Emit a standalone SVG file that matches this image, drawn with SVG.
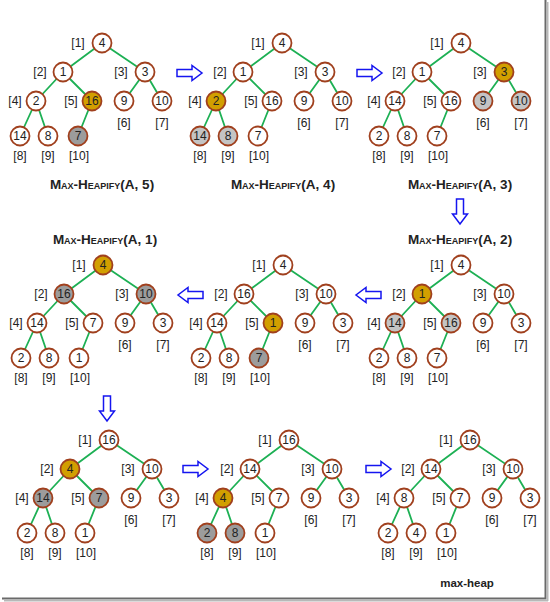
<svg xmlns="http://www.w3.org/2000/svg" xmlns:xlink="http://www.w3.org/1999/xlink" width="550" height="602" viewBox="0 0 550 602">
<style>
text{font-family:"Liberation Sans",Arial,sans-serif;font-size:12px;fill:#222;text-anchor:middle}
.n circle{fill:#fff;stroke:#A0401E;stroke-width:1.8}
.g circle{fill:#D29F00}
.d circle{fill:#9C9C9C}
.l circle{fill:#C4C4C4}
.cap{font-weight:bold;font-variant:small-caps;font-size:13.5px}
.mh{font-weight:bold;font-size:11.5px}
.edge{fill:none;stroke:#1DB054;stroke-width:1.8}
.arr{fill:#fff;stroke:#1515F0;stroke-width:1.5;stroke-linejoin:miter}
</style>
<defs>
<path id="edges" d="M102,43 L63,72 M102,43 L145,72 M63,72 L36,101 M63,72 L92,101 M145,72 L124,101 M145,72 L162,101 M36,101 L20,136 M36,101 L48,136 M92,101 L78,136"/>
<path id="arrow" d="M0,-3.5 H15 V-7.5 L25,0 L15,7.5 V3.5 H0 Z"/>
</defs>
<rect width="550" height="602" fill="#fff"/>
<g id="frame">
<line x1="545.5" y1="0" x2="545.5" y2="599" stroke="#6a6a6a" stroke-width="2"/>
<line x1="547.5" y1="2" x2="547.5" y2="601" stroke="#b8b8b8" stroke-width="2"/>
<line x1="2" y1="598.5" x2="546" y2="598.5" stroke="#6a6a6a" stroke-width="2"/>
<line x1="4" y1="600.5" x2="548" y2="600.5" stroke="#b8b8b8" stroke-width="2"/>
</g>
<g id="connectors" class="edge">
<use xlink:href="#edges" href="#edges"/>
<use xlink:href="#edges" href="#edges" transform="translate(180,0)"/>
<use xlink:href="#edges" href="#edges" transform="translate(359,0)"/>
<use xlink:href="#edges" href="#edges" transform="translate(1,222)"/>
<use xlink:href="#edges" href="#edges" transform="translate(181,222)"/>
<use xlink:href="#edges" href="#edges" transform="translate(359,222)"/>
<use xlink:href="#edges" href="#edges" transform="translate(7,397)"/>
<use xlink:href="#edges" href="#edges" transform="translate(187,397)"/>
<use xlink:href="#edges" href="#edges" transform="translate(368,397)"/>
</g>
<g id="steps" class="arr">
<use xlink:href="#arrow" href="#arrow" transform="translate(177,73)"/>
<use xlink:href="#arrow" href="#arrow" transform="translate(357,73)"/>
<use xlink:href="#arrow" href="#arrow" transform="translate(460,199) rotate(90)"/>
<use xlink:href="#arrow" href="#arrow" transform="translate(381,295) scale(-1,1)"/>
<use xlink:href="#arrow" href="#arrow" transform="translate(203,295) scale(-1,1)"/>
<use xlink:href="#arrow" href="#arrow" transform="translate(107,396) rotate(90)"/>
<use xlink:href="#arrow" href="#arrow" transform="translate(183,469)"/>
<use xlink:href="#arrow" href="#arrow" transform="translate(366,469)"/>
</g>
<g id="captions">
<text class="cap" x="102" y="189">Max-Heapify(A, 5)</text>
<text class="cap" x="283" y="189">Max-Heapify(A, 4)</text>
<text class="cap" x="460" y="189">Max-Heapify(A, 3)</text>
<text class="cap" x="460" y="244">Max-Heapify(A, 2)</text>
<text class="cap" x="105" y="244">Max-Heapify(A, 1)</text>
<text class="mh" x="467" y="587">max-heap</text>
</g>
<g id="treeA" transform="translate(0,0)">
<g id="A1" class="n" transform="translate(102,43)"><circle r="9.5"/><text y="4.3">4</text><text x="-24" y="4.3">[1]</text></g>
<g id="A2" class="n" transform="translate(63,72)"><circle r="9.5"/><text y="4.3">1</text><text x="-23" y="4.3">[2]</text></g>
<g id="A3" class="n" transform="translate(145,72)"><circle r="9.5"/><text y="4.3">3</text><text x="-24" y="4.3">[3]</text></g>
<g id="A4" class="n" transform="translate(36,101)"><circle r="9.5"/><text y="4.3">2</text><text x="-21" y="4.3">[4]</text></g>
<g id="A5" class="n g" transform="translate(92,101)"><circle r="9.5"/><text y="4.3">16</text><text x="-21" y="4.3">[5]</text></g>
<g id="A6" class="n" transform="translate(124,101)"><circle r="9.5"/><text y="4.3">9</text><text y="26.3">[6]</text></g>
<g id="A7" class="n" transform="translate(162,101)"><circle r="9.5"/><text y="4.3">10</text><text y="26.3">[7]</text></g>
<g id="A8" class="n" transform="translate(20,136)"><circle r="9.5"/><text y="4.3">14</text><text y="24.3">[8]</text></g>
<g id="A9" class="n" transform="translate(48,136)"><circle r="9.5"/><text y="4.3">8</text><text y="24.3">[9]</text></g>
<g id="A10" class="n d" transform="translate(78,136)"><circle r="9.5"/><text y="4.3">7</text><text x="1" y="24.3">[10]</text></g>
</g>
<g id="treeB" transform="translate(180,0)">
<g id="B1" class="n" transform="translate(102,43)"><circle r="9.5"/><text y="4.3">4</text><text x="-24" y="4.3">[1]</text></g>
<g id="B2" class="n" transform="translate(63,72)"><circle r="9.5"/><text y="4.3">1</text><text x="-23" y="4.3">[2]</text></g>
<g id="B3" class="n" transform="translate(145,72)"><circle r="9.5"/><text y="4.3">3</text><text x="-24" y="4.3">[3]</text></g>
<g id="B4" class="n g" transform="translate(36,101)"><circle r="9.5"/><text y="4.3">2</text><text x="-21" y="4.3">[4]</text></g>
<g id="B5" class="n" transform="translate(92,101)"><circle r="9.5"/><text y="4.3">16</text><text x="-21" y="4.3">[5]</text></g>
<g id="B6" class="n" transform="translate(124,101)"><circle r="9.5"/><text y="4.3">9</text><text y="26.3">[6]</text></g>
<g id="B7" class="n" transform="translate(162,101)"><circle r="9.5"/><text y="4.3">10</text><text y="26.3">[7]</text></g>
<g id="B8" class="n l" transform="translate(20,136)"><circle r="9.5"/><text y="4.3">14</text><text y="24.3">[8]</text></g>
<g id="B9" class="n l" transform="translate(48,136)"><circle r="9.5"/><text y="4.3">8</text><text y="24.3">[9]</text></g>
<g id="B10" class="n" transform="translate(78,136)"><circle r="9.5"/><text y="4.3">7</text><text x="1" y="24.3">[10]</text></g>
</g>
<g id="treeC" transform="translate(359,0)">
<g id="C1" class="n" transform="translate(102,43)"><circle r="9.5"/><text y="4.3">4</text><text x="-24" y="4.3">[1]</text></g>
<g id="C2" class="n" transform="translate(63,72)"><circle r="9.5"/><text y="4.3">1</text><text x="-23" y="4.3">[2]</text></g>
<g id="C3" class="n g" transform="translate(145,72)"><circle r="9.5"/><text y="4.3">3</text><text x="-24" y="4.3">[3]</text></g>
<g id="C4" class="n" transform="translate(36,101)"><circle r="9.5"/><text y="4.3">14</text><text x="-21" y="4.3">[4]</text></g>
<g id="C5" class="n" transform="translate(92,101)"><circle r="9.5"/><text y="4.3">16</text><text x="-21" y="4.3">[5]</text></g>
<g id="C6" class="n l" transform="translate(124,101)"><circle r="9.5"/><text y="4.3">9</text><text y="26.3">[6]</text></g>
<g id="C7" class="n l" transform="translate(162,101)"><circle r="9.5"/><text y="4.3">10</text><text y="26.3">[7]</text></g>
<g id="C8" class="n" transform="translate(20,136)"><circle r="9.5"/><text y="4.3">2</text><text y="24.3">[8]</text></g>
<g id="C9" class="n" transform="translate(48,136)"><circle r="9.5"/><text y="4.3">8</text><text y="24.3">[9]</text></g>
<g id="C10" class="n" transform="translate(78,136)"><circle r="9.5"/><text y="4.3">7</text><text x="1" y="24.3">[10]</text></g>
</g>
<g id="treeD" transform="translate(359,222)">
<g id="D1" class="n" transform="translate(102,43)"><circle r="9.5"/><text y="4.3">4</text><text x="-24" y="4.3">[1]</text></g>
<g id="D2" class="n g" transform="translate(63,72)"><circle r="9.5"/><text y="4.3">1</text><text x="-23" y="4.3">[2]</text></g>
<g id="D3" class="n" transform="translate(145,72)"><circle r="9.5"/><text y="4.3">10</text><text x="-24" y="4.3">[3]</text></g>
<g id="D4" class="n l" transform="translate(36,101)"><circle r="9.5"/><text y="4.3">14</text><text x="-21" y="4.3">[4]</text></g>
<g id="D5" class="n l" transform="translate(92,101)"><circle r="9.5"/><text y="4.3">16</text><text x="-21" y="4.3">[5]</text></g>
<g id="D6" class="n" transform="translate(124,101)"><circle r="9.5"/><text y="4.3">9</text><text y="26.3">[6]</text></g>
<g id="D7" class="n" transform="translate(162,101)"><circle r="9.5"/><text y="4.3">3</text><text y="26.3">[7]</text></g>
<g id="D8" class="n" transform="translate(20,136)"><circle r="9.5"/><text y="4.3">2</text><text y="24.3">[8]</text></g>
<g id="D9" class="n" transform="translate(48,136)"><circle r="9.5"/><text y="4.3">8</text><text y="24.3">[9]</text></g>
<g id="D10" class="n" transform="translate(78,136)"><circle r="9.5"/><text y="4.3">7</text><text x="1" y="24.3">[10]</text></g>
</g>
<g id="treeE" transform="translate(181,222)">
<g id="E1" class="n" transform="translate(102,43)"><circle r="9.5"/><text y="4.3">4</text><text x="-24" y="4.3">[1]</text></g>
<g id="E2" class="n" transform="translate(63,72)"><circle r="9.5"/><text y="4.3">16</text><text x="-23" y="4.3">[2]</text></g>
<g id="E3" class="n" transform="translate(145,72)"><circle r="9.5"/><text y="4.3">10</text><text x="-24" y="4.3">[3]</text></g>
<g id="E4" class="n" transform="translate(36,101)"><circle r="9.5"/><text y="4.3">14</text><text x="-21" y="4.3">[4]</text></g>
<g id="E5" class="n g" transform="translate(92,101)"><circle r="9.5"/><text y="4.3">1</text><text x="-21" y="4.3">[5]</text></g>
<g id="E6" class="n" transform="translate(124,101)"><circle r="9.5"/><text y="4.3">9</text><text y="26.3">[6]</text></g>
<g id="E7" class="n" transform="translate(162,101)"><circle r="9.5"/><text y="4.3">3</text><text y="26.3">[7]</text></g>
<g id="E8" class="n" transform="translate(20,136)"><circle r="9.5"/><text y="4.3">2</text><text y="24.3">[8]</text></g>
<g id="E9" class="n" transform="translate(48,136)"><circle r="9.5"/><text y="4.3">8</text><text y="24.3">[9]</text></g>
<g id="E10" class="n d" transform="translate(78,136)"><circle r="9.5"/><text y="4.3">7</text><text x="1" y="24.3">[10]</text></g>
</g>
<g id="treeF" transform="translate(1,222)">
<g id="F1" class="n g" transform="translate(102,43)"><circle r="9.5"/><text y="4.3">4</text><text x="-24" y="4.3">[1]</text></g>
<g id="F2" class="n d" transform="translate(63,72)"><circle r="9.5"/><text y="4.3">16</text><text x="-23" y="4.3">[2]</text></g>
<g id="F3" class="n d" transform="translate(145,72)"><circle r="9.5"/><text y="4.3">10</text><text x="-24" y="4.3">[3]</text></g>
<g id="F4" class="n" transform="translate(36,101)"><circle r="9.5"/><text y="4.3">14</text><text x="-21" y="4.3">[4]</text></g>
<g id="F5" class="n" transform="translate(92,101)"><circle r="9.5"/><text y="4.3">7</text><text x="-21" y="4.3">[5]</text></g>
<g id="F6" class="n" transform="translate(124,101)"><circle r="9.5"/><text y="4.3">9</text><text y="26.3">[6]</text></g>
<g id="F7" class="n" transform="translate(162,101)"><circle r="9.5"/><text y="4.3">3</text><text y="26.3">[7]</text></g>
<g id="F8" class="n" transform="translate(20,136)"><circle r="9.5"/><text y="4.3">2</text><text y="24.3">[8]</text></g>
<g id="F9" class="n" transform="translate(48,136)"><circle r="9.5"/><text y="4.3">8</text><text y="24.3">[9]</text></g>
<g id="F10" class="n" transform="translate(78,136)"><circle r="9.5"/><text y="4.3">1</text><text x="1" y="24.3">[10]</text></g>
</g>
<g id="treeG" transform="translate(7,397)">
<g id="G1" class="n" transform="translate(102,43)"><circle r="9.5"/><text y="4.3">16</text><text x="-24" y="4.3">[1]</text></g>
<g id="G2" class="n g" transform="translate(63,72)"><circle r="9.5"/><text y="4.3">4</text><text x="-23" y="4.3">[2]</text></g>
<g id="G3" class="n" transform="translate(145,72)"><circle r="9.5"/><text y="4.3">10</text><text x="-24" y="4.3">[3]</text></g>
<g id="G4" class="n d" transform="translate(36,101)"><circle r="9.5"/><text y="4.3">14</text><text x="-21" y="4.3">[4]</text></g>
<g id="G5" class="n d" transform="translate(92,101)"><circle r="9.5"/><text y="4.3">7</text><text x="-21" y="4.3">[5]</text></g>
<g id="G6" class="n" transform="translate(124,101)"><circle r="9.5"/><text y="4.3">9</text><text y="26.3">[6]</text></g>
<g id="G7" class="n" transform="translate(162,101)"><circle r="9.5"/><text y="4.3">3</text><text y="26.3">[7]</text></g>
<g id="G8" class="n" transform="translate(20,136)"><circle r="9.5"/><text y="4.3">2</text><text y="24.3">[8]</text></g>
<g id="G9" class="n" transform="translate(48,136)"><circle r="9.5"/><text y="4.3">8</text><text y="24.3">[9]</text></g>
<g id="G10" class="n" transform="translate(78,136)"><circle r="9.5"/><text y="4.3">1</text><text x="1" y="24.3">[10]</text></g>
</g>
<g id="treeH" transform="translate(187,397)">
<g id="H1" class="n" transform="translate(102,43)"><circle r="9.5"/><text y="4.3">16</text><text x="-24" y="4.3">[1]</text></g>
<g id="H2" class="n" transform="translate(63,72)"><circle r="9.5"/><text y="4.3">14</text><text x="-23" y="4.3">[2]</text></g>
<g id="H3" class="n" transform="translate(145,72)"><circle r="9.5"/><text y="4.3">10</text><text x="-24" y="4.3">[3]</text></g>
<g id="H4" class="n g" transform="translate(36,101)"><circle r="9.5"/><text y="4.3">4</text><text x="-21" y="4.3">[4]</text></g>
<g id="H5" class="n" transform="translate(92,101)"><circle r="9.5"/><text y="4.3">7</text><text x="-21" y="4.3">[5]</text></g>
<g id="H6" class="n" transform="translate(124,101)"><circle r="9.5"/><text y="4.3">9</text><text y="26.3">[6]</text></g>
<g id="H7" class="n" transform="translate(162,101)"><circle r="9.5"/><text y="4.3">3</text><text y="26.3">[7]</text></g>
<g id="H8" class="n d" transform="translate(20,136)"><circle r="9.5"/><text y="4.3">2</text><text y="24.3">[8]</text></g>
<g id="H9" class="n d" transform="translate(48,136)"><circle r="9.5"/><text y="4.3">8</text><text y="24.3">[9]</text></g>
<g id="H10" class="n" transform="translate(78,136)"><circle r="9.5"/><text y="4.3">1</text><text x="1" y="24.3">[10]</text></g>
</g>
<g id="treeI" transform="translate(368,397)">
<g id="I1" class="n" transform="translate(102,43)"><circle r="9.5"/><text y="4.3">16</text><text x="-24" y="4.3">[1]</text></g>
<g id="I2" class="n" transform="translate(63,72)"><circle r="9.5"/><text y="4.3">14</text><text x="-23" y="4.3">[2]</text></g>
<g id="I3" class="n" transform="translate(145,72)"><circle r="9.5"/><text y="4.3">10</text><text x="-24" y="4.3">[3]</text></g>
<g id="I4" class="n" transform="translate(36,101)"><circle r="9.5"/><text y="4.3">8</text><text x="-21" y="4.3">[4]</text></g>
<g id="I5" class="n" transform="translate(92,101)"><circle r="9.5"/><text y="4.3">7</text><text x="-21" y="4.3">[5]</text></g>
<g id="I6" class="n" transform="translate(124,101)"><circle r="9.5"/><text y="4.3">9</text><text y="26.3">[6]</text></g>
<g id="I7" class="n" transform="translate(162,101)"><circle r="9.5"/><text y="4.3">3</text><text y="26.3">[7]</text></g>
<g id="I8" class="n" transform="translate(20,136)"><circle r="9.5"/><text y="4.3">2</text><text y="24.3">[8]</text></g>
<g id="I9" class="n" transform="translate(48,136)"><circle r="9.5"/><text y="4.3">4</text><text y="24.3">[9]</text></g>
<g id="I10" class="n" transform="translate(78,136)"><circle r="9.5"/><text y="4.3">1</text><text x="1" y="24.3">[10]</text></g>
</g>
</svg>
